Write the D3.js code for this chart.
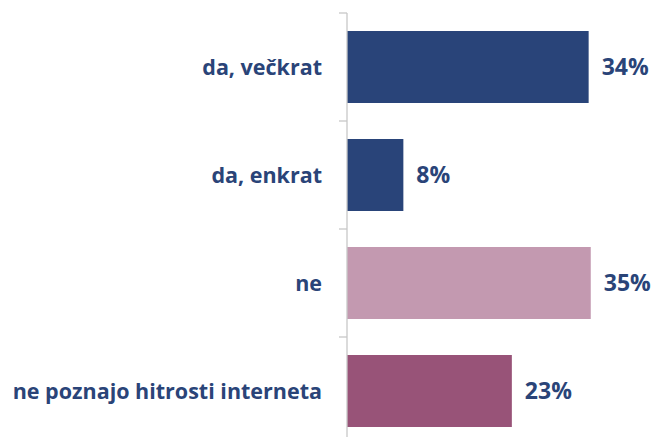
<!DOCTYPE html>
<html>
<head>
<meta charset="utf-8">
<script src="https://cdn.jsdelivr.net/npm/d3@7"></script>
<style>
  body { margin: 0; background: #fff; }
  svg { display: block; }
</style>
</head>
<body>
<svg width="651" height="437"></svg>
<script>
// values (labels are rounded)
const categories = ['da, večkrat', 'da, enkrat', 'ne', 'ne poznajo hitrosti interneta']
const values = [34.3, 8.0, 34.6, 23.4]
const labels = ['34%', '8%', '35%', '23%']
const colors = ['#294479', '#294479', '#c399b0', '#985378']

const svg = d3.select('svg')
const axisX = 347
const textColor = '#2a4478'
const font = "'Open Sans', 'Noto Sans', sans-serif"

const y = d3.scaleBand()
  .domain(categories)
  .range([13, 445])
  .paddingInner(1 / 3)
  .paddingOuter(1 / 6)

const x = d3.scaleLinear()
  .domain([0, 100])
  .range([axisX, axisX + 704.5])

// bars
svg.append('g')
  .selectAll('rect')
  .data(categories)
  .enter().append('rect')
  .attr('x', x(0))
  .attr('y', function (d) { return y(d) })
  .attr('width', function (d, i) { return x(values[i]) - x(0) })
  .attr('height', y.bandwidth())
  .attr('fill', function (d, i) { return colors[i] })

// axis line with ticks at band boundaries
const axis = svg.append('g').attr('stroke', '#c8c8c8').attr('stroke-width', 1.3)
axis.append('line')
  .attr('x1', axisX).attr('x2', axisX)
  .attr('y1', 13).attr('y2', 445)
axis.selectAll('line.tick')
  .data(categories)
  .enter().append('line')
  .attr('class', 'tick')
  .attr('x1', axisX - 8).attr('x2', axisX)
  .attr('y1', function (d) { return y(d) - y.step() * y.paddingOuter() })
  .attr('y2', function (d) { return y(d) - y.step() * y.paddingOuter() })

// category labels
svg.append('g')
  .selectAll('text')
  .data(categories)
  .enter().append('text')
  .attr('x', axisX - 25)
  .attr('y', function (d) { return y(d) + y.bandwidth() / 2 })
  .attr('dy', '0.35em')
  .attr('text-anchor', 'end')
  .style('font-family', font)
  .style('font-weight', 'bold')
  .style('font-size', '21.5px')
  .style('fill', textColor)
  .text(function (d) { return d })

// value labels
svg.append('g')
  .selectAll('text')
  .data(categories)
  .enter().append('text')
  .attr('x', function (d, i) { return x(values[i]) + 13 })
  .attr('y', function (d) { return y(d) + y.bandwidth() / 2 })
  .attr('dy', '0.35em')
  .style('font-family', font)
  .style('font-weight', 'bold')
  .style('font-size', '23px')
  .style('fill', textColor)
  .text(function (d, i) { return labels[i] })
</script>
</body>
</html>
